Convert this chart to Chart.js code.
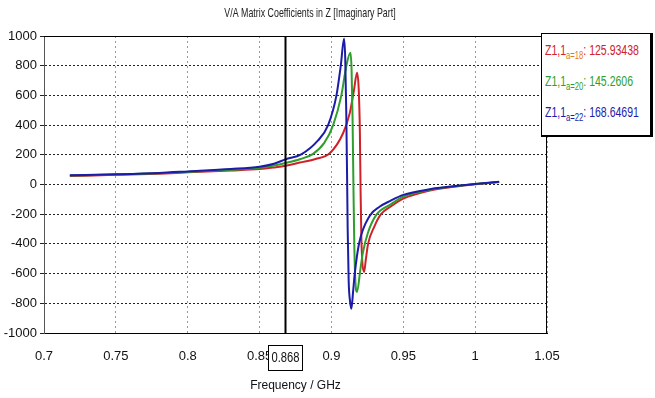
<!DOCTYPE html>
<html>
<head>
<meta charset="utf-8">
<script src="https://cdn.jsdelivr.net/npm/chart.js@4/dist/chart.umd.min.js"></script>
<style>
  body { margin: 0; background: #fff; }
  #wrap { position: relative; width: 655px; height: 398px; }
  #legend {
    position: absolute; left: 541px; top: 33px; width: 112px; height: 104px;
    border: 1px solid #000; border-right-width: 3px; border-bottom-width: 2px;
    background: #fff; font-family: 'Liberation Sans', Arial, sans-serif;
    font-size: 15px; box-sizing: border-box; padding-left: 3px; overflow: hidden;
  }
  #legend div {
    height: 31px; line-height: 31px; white-space: nowrap;
    transform: scaleX(0.7); transform-origin: left center;
  }
  #legend sub { font-size: 11px; vertical-align: -4px; }
</style>
</head>
<body>
<div id="wrap">
  <canvas id="chart" width="655" height="398"></canvas>
  <div id="legend"></div>
</div>
<script>
const chartTitle = 'V/A Matrix Coefficients in Z [Imaginary Part]';
const xTitle = 'Frequency / GHz';
const markerFreq = 0.868;

// a = 18 (red)
const freq18 = [0.718, 0.75, 0.78, 0.80, 0.83, 0.85, 0.86, 0.868, 0.878, 0.889, 0.8988, 0.9081, 0.9127, 0.9157, 0.9178, 0.9190, 0.9198, 0.9203, 0.9208, 0.9215, 0.9227, 0.9240, 0.9255, 0.930, 0.9345, 0.941, 0.95, 0.9685, 0.985, 1.0, 1.0167];
const z18 = [57, 65, 73, 82, 94, 104, 115, 126, 148, 172, 210, 345, 479, 636, 752, 640, 350, -50, -350, -520, -590, -500, -400, -280, -200, -150, -95, -40, -15, 2, 17];

// a = 20 (green)
const freq20 = [0.718, 0.75, 0.78, 0.80, 0.83, 0.85, 0.86, 0.868, 0.878, 0.887, 0.895, 0.9012, 0.9069, 0.9104, 0.9132, 0.9140, 0.9147, 0.9153, 0.9159, 0.9166, 0.9178, 0.9201, 0.9219, 0.9254, 0.9312, 0.941, 0.95, 0.9685, 0.985, 1.0, 1.0167];
const z20 = [60, 67, 76, 85, 99, 112, 128, 145, 170, 205, 280, 400, 600, 800, 887, 780, 450, 0, -400, -640, -724, -575, -459, -325, -205, -135, -82, -35, -13, 3, 17];

// a = 22 (blue)
const freq22 = [0.718, 0.75, 0.78, 0.80, 0.83, 0.85, 0.86, 0.868, 0.879, 0.8905, 0.8977, 0.9035, 0.9065, 0.9088, 0.9096, 0.9103, 0.9109, 0.9113, 0.9120, 0.9130, 0.9139, 0.9150, 0.9162, 0.9192, 0.9267, 0.9335, 0.941, 0.95, 0.9685, 0.985, 1.0, 1.0167];
const z22 = [62, 69, 78, 88, 104, 120, 140, 169, 203, 295, 400, 600, 800, 982, 850, 500, 50, -300, -650, -790, -836, -730, -604, -399, -210, -150, -110, -70, -32, -12, 3, 18];

const seriesNames = ['a=18', 'a=20', 'a=22'];
const markerValues = ['125.93438', '145.2606', '168.64691'];
const colors = ['#d02028', '#2e9e2e', '#1c1ca8'];
const subColors = ['#e07a20', '#2e9e2e', '#1c1ca8'];

const font = "'Liberation Sans', Arial, sans-serif";

function pts(xs, ys) {
    return xs.map((x, i) => ({ x: x, y: ys[i] }));
}

// narrow text, like the original screenshot
function squeezed(ctx, text, x, y, sx) {
    ctx.save();
    ctx.translate(x, y);
    ctx.scale(sx, 1);
    ctx.fillText(text, 0, 0);
    ctx.restore();
}

const decor = {
    id: 'decor',
    afterDraw(chart) {
        const { ctx, chartArea: a, scales: { x } } = chart;
        ctx.save();
        ctx.strokeStyle = '#000';
        ctx.lineWidth = 1;
        ctx.beginPath();
        ctx.moveTo(a.left, a.top + 0.5);
        ctx.lineTo(a.right - 0.5, a.top + 0.5);
        ctx.lineTo(a.right - 0.5, a.bottom);
        ctx.stroke();

        const mx = Math.round(x.getPixelForValue(markerFreq)) + 0.5;
        ctx.lineWidth = 2;
        ctx.beginPath();
        ctx.moveTo(mx, a.top);
        ctx.lineTo(mx, a.bottom);
        ctx.stroke();

        ctx.lineWidth = 1;
        ctx.fillStyle = '#fff';
        ctx.fillRect(mx - 17, a.bottom + 12, 34, 25);
        ctx.strokeRect(mx - 17, a.bottom + 12.5, 34, 25);
        ctx.fillStyle = '#111';
        ctx.font = '14px ' + font;
        ctx.textAlign = 'center';
        ctx.textBaseline = 'middle';
        squeezed(ctx, String(markerFreq), mx, a.bottom + 25, 0.8);

        ctx.font = '13px ' + font;
        ctx.fillStyle = '#222';
        squeezed(ctx, chartTitle, 310, 13, 0.68);
        ctx.restore();
    }
};

new Chart(document.getElementById('chart'), {
    type: 'line',
    data: {
        datasets: [
            { label: seriesNames[0], data: pts(freq18, z18), borderColor: colors[0], order: 3 },
            { label: seriesNames[1], data: pts(freq20, z20), borderColor: colors[1], order: 2 },
            { label: seriesNames[2], data: pts(freq22, z22), borderColor: colors[2], order: 1 }
        ]
    },
    options: {
        responsive: false,
        animation: false,
        events: [],
        layout: { padding: { top: 36, right: 108, left: 0, bottom: 0 } },
        elements: {
            point: { radius: 0 },
            line: { borderWidth: 2, cubicInterpolationMode: 'monotone', fill: false }
        },
        plugins: { legend: { display: false }, tooltip: { enabled: false } },
        scales: {
            x: {
                type: 'linear',
                min: 0.7,
                max: 1.05,
                afterFit(s) { s.height = 65; },
                ticks: {
                    stepSize: 0.05,
                    padding: 16,
                    color: '#111',
                    font: { family: font, size: 13 },
                    callback: v => String(Number(v.toFixed(2)))
                },
                grid: { color: '#999', drawTicks: false },
                border: { color: '#000', dash: [2, 3] },
                title: {
                    display: true,
                    text: xTitle,
                    color: '#111',
                    font: { family: font, size: 12 },
                    padding: { top: 0, bottom: 5 }
                }
            },
            y: {
                min: -1000,
                max: 1000,
                afterFit(s) { s.width = 44; },
                ticks: {
                    stepSize: 200,
                    padding: 3,
                    color: '#111',
                    font: { family: font, size: 13 },
                    callback: v => String(v)
                },
                grid: { color: '#222', tickLength: 4, tickColor: '#222' },
                border: { color: '#555', dash: [2, 2] }
            }
        }
    },
    plugins: [decor]
});

const legend = document.getElementById('legend');
seriesNames.forEach((n, i) => {
    const row = document.createElement('div');
    row.style.color = colors[i];
    row.innerHTML = 'Z1,1<sub style="color:' + subColors[i] + '">' + n + '</sub>: ' + markerValues[i];
    legend.appendChild(row);
});
</script>
</body>
</html>
